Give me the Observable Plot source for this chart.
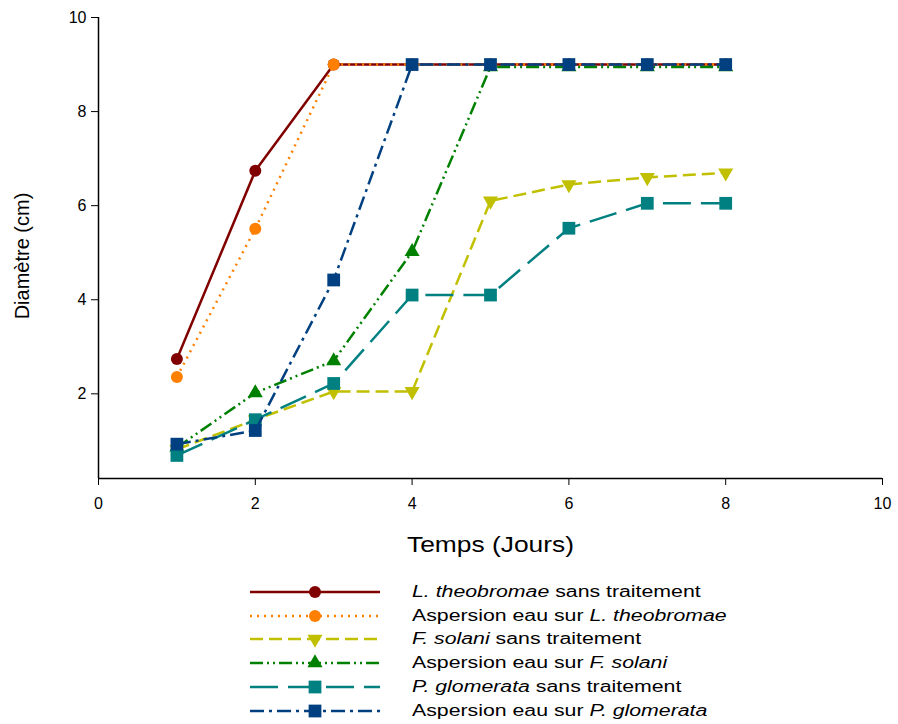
<!DOCTYPE html>
<html>
<head>
<meta charset="utf-8">
<script src="https://cdn.jsdelivr.net/npm/d3@7"></script>
<script src="https://cdn.jsdelivr.net/npm/@observablehq/plot@0.6"></script>
<style>
  body { margin: 0; background: #fff; font-family: "Liberation Sans", Arial, sans-serif; }
  #chart svg { display: block; }
  #legend { margin-left: 250px; margin-top: 15px; }
  .row { display: flex; align-items: center; height: 23.8px; }
  .row svg { display: block; }
  .row span { margin-left: 32px; font-size: 16px; color: #000; display: inline-block; transform: scaleX(1.33); transform-origin: 0 50%; white-space: nowrap; }
</style>
</head>
<body>
<div id="chart"></div>
<div id="legend"></div>
<script>
const days = [1, 2, 3, 4, 5, 6, 7, 8];
const ltSans = [2.74, 6.74, 9, 9, 9, 9, 9, 9];
const ltEau = [2.36, 5.51, 9, 9, 9, 9, 9, 9];
const fsSans = [0.82, 1.45, 2.05, 2.05, 6.1, 6.45, 6.6, 6.7];
const fsEau = [0.86, 2.02, 2.7, 5.02, 8.95, 8.95, 8.95, 8.95];
const pgSans = [0.69, 1.45, 2.22, 4.1, 4.1, 5.52, 6.05, 6.05];
const pgEau = [0.93, 1.22, 4.42, 9, 9, 9, 9, 9];
const xTicks = [0, 2, 4, 6, 8, 10];
const yTicks = [2, 4, 6, 8, 10];
const xLabel = "Temps (Jours)";
const yLabel = "Diamètre (cm)";
const legendLabels = [
  "<i>L. theobromae</i> sans traitement",
  "Aspersion eau sur <i>L. theobromae</i>",
  "<i>F. solani</i> sans traitement",
  "Aspersion eau sur <i>F. solani</i>",
  "<i>P. glomerata</i> sans traitement",
  "Aspersion eau sur <i>P. glomerata</i>"
];

const triDown = {
  draw(ctx, size) {
    const y = -Math.sqrt(size / (Math.sqrt(3) * 3));
    const s3 = Math.sqrt(3);
    ctx.moveTo(0, -y * 2);
    ctx.lineTo(-s3 * y, y);
    ctx.lineTo(s3 * y, y);
    ctx.closePath();
  }
};

const series = [
  {values: ltSans, color: "#800000", dash: null, symbol: "circle", r: 6},
  {values: ltEau, color: "#ff8000", dash: "2,5", symbol: "circle", r: 6},
  {values: fsSans, color: "#c0c000", dash: "13,6", symbol: triDown, r: 5.6},
  {values: fsEau, color: "#008000", dash: "13,4,2,4,2,4", symbol: "triangle", r: 5.6},
  {values: pgSans, color: "#008080", dash: "28,10", symbol: "square", r: 7.2},
  {values: pgEau, color: "#004080", dash: "14,5,3,5", symbol: "square", r: 7.2}
];

const marks = [];
series.forEach((s, i) => {
  const data = days.map((d, j) => ({x: d, y: s.values[j]}));
  marks.push(Plot.line(data, {x: "x", y: "y", stroke: s.color, strokeWidth: 2.5, strokeDasharray: s.dash, strokeLinecap: "butt"}));
  marks.push(Plot.dot(data, {x: "x", y: "y", fill: s.color, symbol: s.symbol, r: s.r, stroke: "none"}));
});

const chart = Plot.plot({
  width: 898,
  height: 565,
  marginLeft: 98,
  marginRight: 16,
  marginTop: 17,
  marginBottom: 87,
  style: {fontFamily: "'Liberation Sans', Arial, sans-serif", fontSize: "16px", color: "#000", background: "#fff"},
  x: {domain: [0, 10]},
  y: {domain: [0.2, 10]},
  marks: [
    Plot.axisX({ticks: xTicks, tickSize: 7, tickPadding: 12, fontSize: 16, label: null}),
    Plot.axisY({ticks: yTicks, tickSize: 7, tickPadding: 5, fontSize: 16, label: null}),
    Plot.text([xLabel], {text: d => d, frameAnchor: "bottom", dy: 73, fontSize: 22, className: "xlab"}),
    Plot.text([yLabel], {text: d => d, frameAnchor: "left", textAnchor: "middle", dx: -76, dy: 8, rotate: -90, fontSize: 20}),
    Plot.ruleX([0], {stroke: "#000", strokeWidth: 1.5}),
    Plot.ruleY([0.2], {stroke: "#000", strokeWidth: 1.5}),
    ...marks
  ]
});
chart.querySelectorAll(".xlab text").forEach(t => {
  t.setAttribute("textLength", 167);
  t.setAttribute("lengthAdjust", "spacingAndGlyphs");
});
document.getElementById("chart").appendChild(chart);

// Legend
const legend = d3.select("#legend");
series.forEach((s, i) => {
  const row = legend.append("div").attr("class", "row");
  const svg = row.append("svg").attr("width", 130).attr("height", 20);
  svg.append("line").attr("x1", 0).attr("x2", 130).attr("y1", 10).attr("y2", 10)
    .attr("stroke", s.color).attr("stroke-width", 2.5)
    .attr("stroke-dasharray", s.dash);
  const sym = typeof s.symbol === "string"
    ? {circle: d3.symbolCircle, square: d3.symbolSquare, triangle: d3.symbolTriangle}[s.symbol]
    : s.symbol;
  svg.append("path").attr("transform", "translate(65,10)")
    .attr("d", d3.symbol(sym, Math.PI * s.r * s.r)())
    .attr("fill", s.color);
  row.append("span").html(legendLabels[i]);
});
</script>
</body>
</html>
